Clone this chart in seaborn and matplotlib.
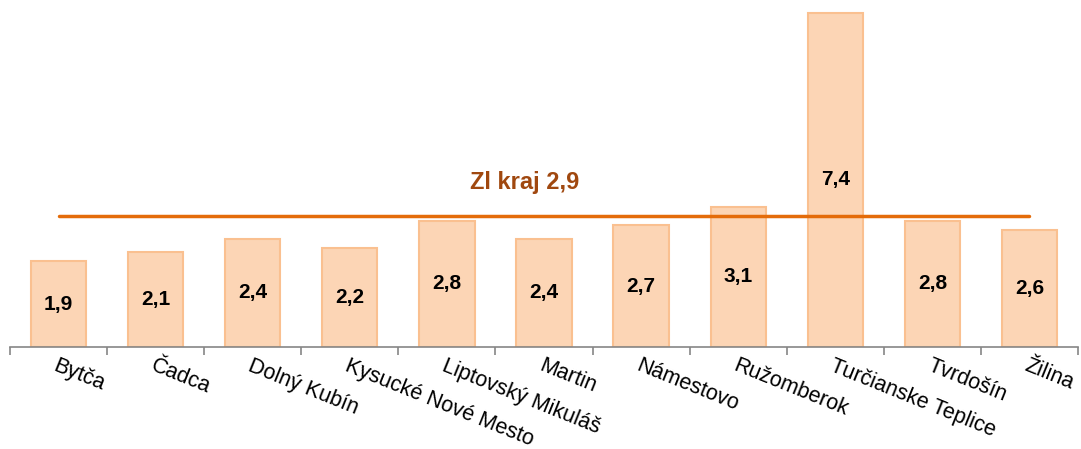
import numpy as np
import pandas as pd
import matplotlib
matplotlib.use("Agg")
import matplotlib.pyplot as plt
import seaborn as sns

# data
districts = ["Bytča", "Čadca", "Dolný Kubín", "Kysucké Nové Mesto", "Liptovský Mikuláš",
             "Martin", "Námestovo", "Ružomberok", "Turčianske Teplice", "Tvrdošín", "Žilina"]
values = [1.9, 2.1, 2.4, 2.2, 2.8, 2.4, 2.7, 3.1, 7.4, 2.8, 2.6]
labels = ["1,9", "2,1", "2,4", "2,2", "2,8", "2,4", "2,7", "3,1", "7,4", "2,8", "2,6"]
kraj_value = 2.9
kraj_label = "Zl kraj 2,9"

df = pd.DataFrame({"okres": districts, "hodnota": values})

sns.set_style("white")
plt.rcParams['font.family'] = ['Liberation Sans', 'DejaVu Sans']

fig = plt.figure(figsize=(10.81, 4.49), dpi=100)
ax = fig.add_axes([10 / 1081, 102 / 449, 1068 / 1081, 337 / 449])

sns.barplot(data=df, x="okres", y="hodnota", ax=ax, color="#FCD5B5",
            edgecolor="#FAC090", linewidth=1.5, width=0.57, saturation=1)

# value labels in the middle of each bar
for i, (v, lab) in enumerate(zip(values, labels)):
    ax.text(i, v / 2, lab, ha="center", va="center", fontsize=15,
            fontweight="bold", color="black")

# region average line
ax.plot([0, len(districts) - 1], [kraj_value, kraj_value], color="#E46C0A", lw=2.5)
ax.text(4.8, 3.65, kraj_label, ha="center", va="center", fontsize=17,
        fontweight="bold", color="#A0480F")

ax.set_xlim(-0.5, len(districts) - 0.5)
ax.set_ylim(0, 7.46)
ax.set_xlabel("")
ax.set_ylabel("")
ax.set_yticks([])

for s in ["top", "right", "left"]:
    ax.spines[s].set_visible(False)
ax.spines["bottom"].set_color("#868686")
ax.spines["bottom"].set_linewidth(1.2)

ax.set_xticks(range(len(districts)))
ax.set_xticklabels(districts, rotation=-22, ha="left", va="top",
                   rotation_mode="anchor", fontsize=15.5, color="black")
ax.tick_params(axis="x", which="major", length=0, pad=6)
ax.set_xticks(np.arange(-0.5, len(districts), 1), minor=True)
ax.tick_params(axis="x", which="minor", length=6, width=1.2, color="#868686",
               direction="out", bottom=True)

fig.savefig("out.png", dpi=100)
